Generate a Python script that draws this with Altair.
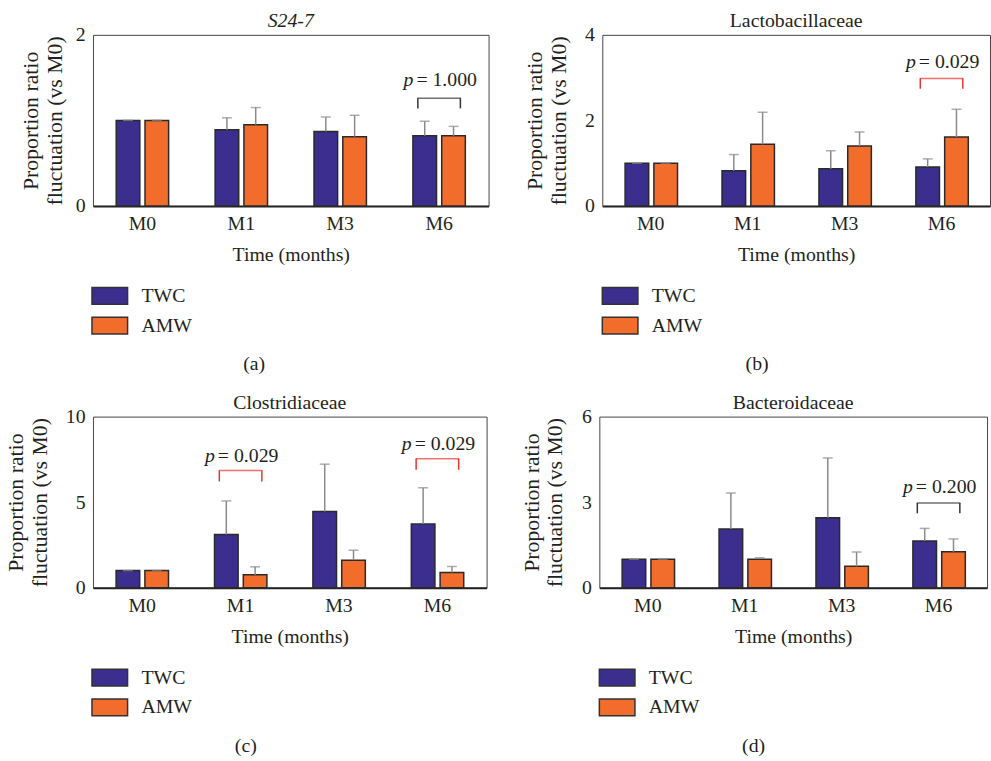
import altair as alt
import pandas as pd

FONT = "Liberation Serif"
TXT = "#231f20"
TWC_C = "#3b2e8e"
AMW_C = "#f26c2b"
ERR_C = "#8a8a8a"
RED = "#e8332d"
BLACK = "#333333"

months = ["M0", "M1", "M3", "M6"]
groups = ["TWC", "AMW"]

titles = ["S24-7", "Lactobacillaceae", "Clostridiaceae", "Bacteroidaceae"]
title_italic = [True, False, False, False]
captions = ["(a)", "(b)", "(c)", "(d)"]
y_max = [2, 4, 10, 6]
y_ticks = [[0, 1, 2], [0, 2, 4], [0, 5, 10], [0, 3, 6]]

# mean values and upper end of error bars
s24_twc = [1.00, 0.89, 0.87, 0.82]
s24_twc_up = [1.00, 1.03, 1.04, 0.99]
s24_amw = [1.00, 0.95, 0.81, 0.82]
s24_amw_up = [1.00, 1.15, 1.06, 0.93]

lac_twc = [1.00, 0.82, 0.87, 0.91]
lac_twc_up = [1.00, 1.20, 1.29, 1.10]
lac_amw = [1.00, 1.44, 1.40, 1.61]
lac_amw_up = [1.00, 2.19, 1.73, 2.26]

clo_twc = [1.00, 3.11, 4.45, 3.73]
clo_twc_up = [1.00, 5.07, 7.22, 5.84]
clo_amw = [1.00, 0.76, 1.61, 0.89]
clo_amw_up = [1.00, 1.22, 2.19, 1.24]

bac_twc = [1.00, 2.06, 2.45, 1.64]
bac_twc_up = [1.00, 3.32, 4.55, 2.08]
bac_amw = [1.00, 1.00, 0.75, 1.26]
bac_amw_up = [1.00, 1.05, 1.25, 1.71]

# significance brackets: month, bracket level, leg end, label level, p value
s24_br_month = ["M6"]
s24_br_top = [1.26]
s24_br_low = [1.14]
s24_br_label = [1.40]
s24_br_p = ["1.000"]

lac_br_month = ["M6"]
lac_br_top = [2.98]
lac_br_low = [2.74]
lac_br_label = [3.23]
lac_br_p = ["0.029"]

clo_br_month = ["M1", "M6"]
clo_br_top = [6.85, 7.53]
clo_br_low = [6.21, 6.89]
clo_br_label = [7.34, 8.06]
clo_br_p = ["0.029", "0.029"]

bac_br_month = ["M6"]
bac_br_top = [2.97]
bac_br_low = [2.61]
bac_br_label = [3.31]
bac_br_p = ["0.200"]

H = 173


def panel(i, twc, twc_up, amw, amw_up, br_month, br_top, br_low, br_label, br_p,
          width, lab_pad, title_pad, legend_x):
    bars = pd.DataFrame({
        "month": months * 2,
        "group": ["TWC"] * 4 + ["AMW"] * 4,
        "value": twc + amw,
        "upper": twc_up + amw_up,
    })
    br = pd.DataFrame({
        "month": br_month,
        "top": br_top,
        "low": br_low,
        "ty": br_label,
        "ptext": ["= " + p for p in br_p],
        "bcolor": [RED if float(p) < 0.05 else BLACK for p in br_p],
    })
    x = alt.X("month:N",
              scale=alt.Scale(domain=months, paddingInner=0.47, paddingOuter=0.235),
              axis=alt.Axis(title="Time (months)", labelAngle=0, ticks=False,
                            domainColor="#222222", domainWidth=2,
                            labelPadding=8, titlePadding=11))
    y = alt.Y("value:Q",
              scale=alt.Scale(domain=[0, y_max[i]], nice=False, zero=True),
              axis=alt.Axis(values=y_ticks[i], format="d",
                            title=["Proportion ratio", "fluctuation (vs M0)"],
                            domain=False, ticks=False, grid=False,
                            labelPadding=lab_pad, titlePadding=title_pad,
                            titleFontSize=22, titleLineHeight=24))
    xo = alt.XOffset("group:N", scale=alt.Scale(domain=groups, paddingInner=0.18))
    base = alt.Chart(bars)
    bar = base.mark_bar(stroke="#2a2a2a", strokeWidth=1.5).encode(
        x=x, xOffset=xo, y=y,
        color=alt.Color("group:N",
                        scale=alt.Scale(domain=groups, range=[TWC_C, AMW_C]),
                        legend=alt.Legend(title=None, orient="none",
                                          legendX=legend_x, legendY=254,
                                          direction="vertical",
                                          symbolType="M-1,-0.94H3V0.94H-1Z",
                                          symbolSize=324,
                                          symbolStrokeColor="#333333",
                                          symbolStrokeWidth=1.5,
                                          symbolOpacity=1,
                                          labelFontSize=20, labelFont=FONT,
                                          labelColor=TXT, labelOffset=31,
                                          rowPadding=6, padding=0)))
    err = base.mark_rule(color=ERR_C, strokeWidth=1.5).encode(
        x="month:N", xOffset=xo, y="value:Q", y2="upper:Q")
    cap = base.mark_tick(color=ERR_C, thickness=1.5, size=10).encode(
        x="month:N", xOffset=xo, y="upper:Q")

    bch = alt.Chart(br)
    br_h = bch.mark_tick(thickness=1.5, size=44).encode(
        x="month:N", y="top:Q", fill=alt.Fill("bcolor:N", scale=None))
    br_l = bch.mark_rule(strokeWidth=1.5, xOffset=-21.5).encode(
        x="month:N", y="top:Q", y2="low:Q", stroke=alt.Stroke("bcolor:N", scale=None))
    br_r = bch.mark_rule(strokeWidth=1.5, xOffset=21.5).encode(
        x="month:N", y="top:Q", y2="low:Q", stroke=alt.Stroke("bcolor:N", scale=None))
    ptxt = bch.mark_text(align="left", baseline="alphabetic", dx=-23, fontSize=20,
                         font=FONT, color=TXT).encode(
        x="month:N", y="ty:Q", text="ptext:N")
    pp = bch.mark_text(align="right", baseline="alphabetic", dx=-26, fontSize=20,
                       font=FONT, fontStyle="italic", color=TXT).encode(
        x="month:N", y="ty:Q", text=alt.value("p"))

    ttl = alt.Chart(pd.DataFrame({"t": [titles[i]]})).mark_text(
        fontSize=20, font=FONT, baseline="alphabetic", color=TXT,
        fontStyle="italic" if title_italic[i] else "normal").encode(
        text="t:N", x=alt.value(width / 2), y=alt.value(-8))

    return alt.layer(bar, err, cap, br_h, br_l, br_r, ptxt, pp, ttl).properties(
        width=width, height=H,
        title=alt.Title(captions[i], orient="bottom", offset=17, fontSize=20,
                        frame="bounds", anchor="middle",
                        font=FONT, fontWeight="normal", color=TXT))


pa = panel(0, s24_twc, s24_twc_up, s24_amw, s24_amw_up,
           s24_br_month, s24_br_top, s24_br_low, s24_br_label, s24_br_p,
           400, 8, 9, -2)
pb = panel(1, lac_twc, lac_twc_up, lac_amw, lac_amw_up,
           lac_br_month, lac_br_top, lac_br_low, lac_br_label, lac_br_p,
           392, 8, 14, -1)
pc = panel(2, clo_twc, clo_twc_up, clo_amw, clo_amw_up,
           clo_br_month, clo_br_top, clo_br_low, clo_br_label, clo_br_p,
           398, 8, 14, -2)
pd_ = panel(3, bac_twc, bac_twc_up, bac_amw, bac_amw_up,
            bac_br_month, bac_br_top, bac_br_low, bac_br_label, bac_br_p,
            392, 8, 15, -1)

row1 = alt.hconcat(pa, pb, spacing=34).resolve_scale(color="independent")
row2 = alt.hconcat(pc, pd_, spacing=32).resolve_scale(color="independent")

chart = alt.vconcat(row1, row2, spacing=17).resolve_scale(
    color="independent"
).properties(
    padding={"left": 4, "top": 6, "right": 0, "bottom": 0}
).configure_view(
    stroke="#444444", strokeWidth=1
).configure_axis(
    labelFont=FONT, titleFont=FONT, labelFontSize=20, titleFontSize=20,
    titleFontWeight="normal", labelColor=TXT, titleColor=TXT
).configure_title(
    font=FONT, fontSize=20, fontWeight="normal", color=TXT
)

chart.save("out.html", embed_options={"renderer": "svg", "actions": False})
